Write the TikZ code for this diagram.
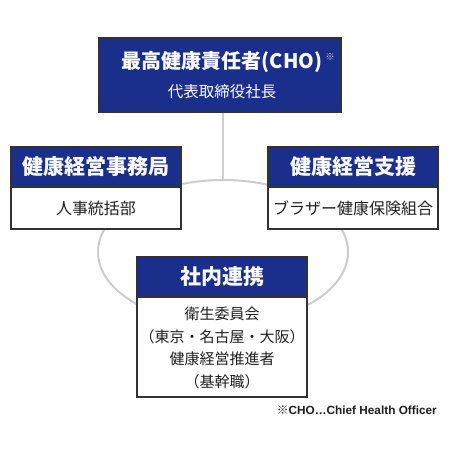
\documentclass[tikz,border=0pt]{standalone}
\usepackage{fontspec}
\setmainfont{Noto Sans CJK JP}
\newfontfamily\latinbold{Liberation Sans}
\newfontfamily\cjkfont{Noto Sans CJK JP}
\usetikzlibrary{shapes.geometric}
\definecolor{navy}{RGB}{26,46,140}
\definecolor{ringgray}{RGB}{205,205,205}
\definecolor{edgegray}{RGB}{50,50,50}
\tikzset{
  headbox/.style={draw=edgegray, line width=1.2pt, fill=navy, minimum width=170pt, minimum height=40pt, inner sep=0pt},
  bodybox/.style={draw=edgegray, line width=1.2pt, fill=white, minimum width=170pt, inner sep=0pt},
  headtext/.style={text=white, font=\fontsize{21}{24}\selectfont\bfseries, inner sep=0pt},
  bodytext/.style={text=black!88, font=\fontsize{15}{22.5}\selectfont, inner sep=0pt, align=center},
}
\begin{document}
\begin{tikzpicture}[x=1pt,y=-1pt]
\useasboundingbox (0,0) rectangle (450,450);
\fill[white] (0,0) rectangle (450,450);
% ring
\node[draw=ringgray, line width=2pt, ellipse, minimum width=250pt, minimum height=144pt, inner sep=0pt] (ring) at (223,252) {};
% top box
\node[headbox, minimum width=242pt, minimum height=74pt] (cho) at (220,75) {};
\draw[ringgray, line width=2pt] (cho.south -| ring.north) -- (ring.north);
\node[text=white, font=\fontsize{20}{24}\selectfont\bfseries, inner sep=0pt] (chot) at (222,62) {最高健康責任者(CHO)};
\node[text=white!75!navy, font=\fontsize{9.5}{10}\selectfont, inner sep=0pt] (mark) at (330,57) {※};
\node[text=white, font=\fontsize{15.5}{18}\selectfont, inner sep=0pt] (ceo) at (222,92) {代表取締役社長};
% left box
\node[headbox] (lh) at (96,167) {};
\node[bodybox, minimum height=42pt] (lb) at (96,208) {};
\node[headtext] at (lh.center) {健康経営事務局};
\node[bodytext, font=\fontsize{16}{20}\selectfont] at (lb.center) {人事統括部};
% right box
\node[headbox] (rh) at (353,167) {};
\node[bodybox, minimum height=42pt] (rb) at (353,208) {};
\node[headtext] at (rh.center) {健康経営支援};
\node[bodytext, font=\fontsize{16}{20}\selectfont] at (rb.center) {ブラザー健康保険組合};
% bottom box
\node[headbox] (bh) at (222,277) {};
\node[bodybox, minimum height=100pt] (bb) at (222,347) {};
\node[headtext] at (bh.center) {社内連携};
\node[bodytext] at ([yshift=-1pt]bb.center) {衛生委員会\\（東京・名古屋・大阪）\\健康経営推進者\\（基幹職）};
% footnote
\node[anchor=east, font=\latinbold\fontsize{11.8}{13}\selectfont\bfseries, text=black!88, inner sep=0pt] (note) at (437,410) {{\cjkfont ※}CHO…Chief Health Officer};
\end{tikzpicture}
\end{document}
